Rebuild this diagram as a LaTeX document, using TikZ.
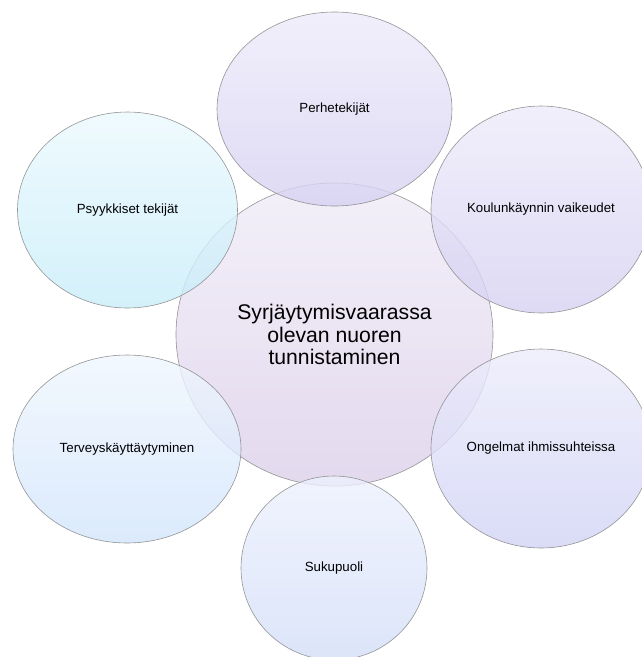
\documentclass[tikz,border=0pt]{standalone}
\usepackage{fontspec}
\setmainfont{Liberation Sans}
\usetikzlibrary{shapes.geometric}

\definecolor{keskTop}{HTML}{F3F0F9}
\definecolor{keskBot}{HTML}{E3D9EE}
\definecolor{violTop}{HTML}{EEEBFA}
\definecolor{violBot}{HTML}{D6D1F2}
\definecolor{sinvTop}{HTML}{ECECFB}
\definecolor{sinvBot}{HTML}{D1D3F5}
\definecolor{sinTop}{HTML}{EDF1FD}
\definecolor{sinBot}{HTML}{D3DEF8}
\definecolor{vsinTop}{HTML}{EFF6FE}
\definecolor{vsinBot}{HTML}{D2E5FB}
\definecolor{syaTop}{HTML}{EBF9FE}
\definecolor{syaBot}{HTML}{C8EDF9}
\definecolor{reuna}{HTML}{8A8A8A}

\begin{document}
\begin{tikzpicture}[x = 1pt, y = -1pt]
	\tikzstyle{pallo} = [shape = ellipse, inner sep = 0pt, draw = reuna, line width = 0.6pt, fill opacity = 0.8, draw opacity = 0.9, text opacity = 1, align = center]
	\tikzstyle{ulkoStyle} = [pallo, font = \fontsize{13.3}{16}\selectfont]
	\tikzstyle{keskStyle} = [pallo, font = \fontsize{21.2}{22.3}\selectfont, fill opacity = 1]
	\useasboundingbox (0, 0) rectangle (641, 657);
	\node[keskStyle, top color = keskTop, bottom color = keskBot, minimum width = 317pt, minimum height = 303pt] (kesk) at (334.5, 334.5) {Syrjäytymisvaarassa\\olevan nuoren\\tunnistaminen};
	\node[ulkoStyle, top color = violTop, bottom color = violBot, minimum width = 235pt, minimum height = 194pt] (perhe) at (334.5, 109) {Perhetekijät};
	\node[ulkoStyle, top color = violTop, bottom color = violBot, minimum width = 220pt, minimum height = 207pt] (koulu) at (541, 209.5) {Koulunkäynnin vaikeudet};
	\node[ulkoStyle, top color = sinvTop, bottom color = sinvBot, minimum width = 220pt, minimum height = 199pt] (ongelmat) at (541, 448.5) {Ongelmat ihmissuhteissa};
	\node[ulkoStyle, top color = sinTop, bottom color = sinBot, minimum width = 186pt, minimum height = 184pt] (sukupuoli) at (334, 568) {Sukupuoli};
	\node[ulkoStyle, top color = vsinTop, bottom color = vsinBot, minimum width = 228pt, minimum height = 188pt] (terveys) at (127, 449) {Terveyskäyttäytyminen};
	\node[ulkoStyle, top color = syaTop, bottom color = syaBot, minimum width = 220pt, minimum height = 196pt] (psyyk) at (127.5, 210) {Psyykkiset tekijät};
\end{tikzpicture}
\end{document}
